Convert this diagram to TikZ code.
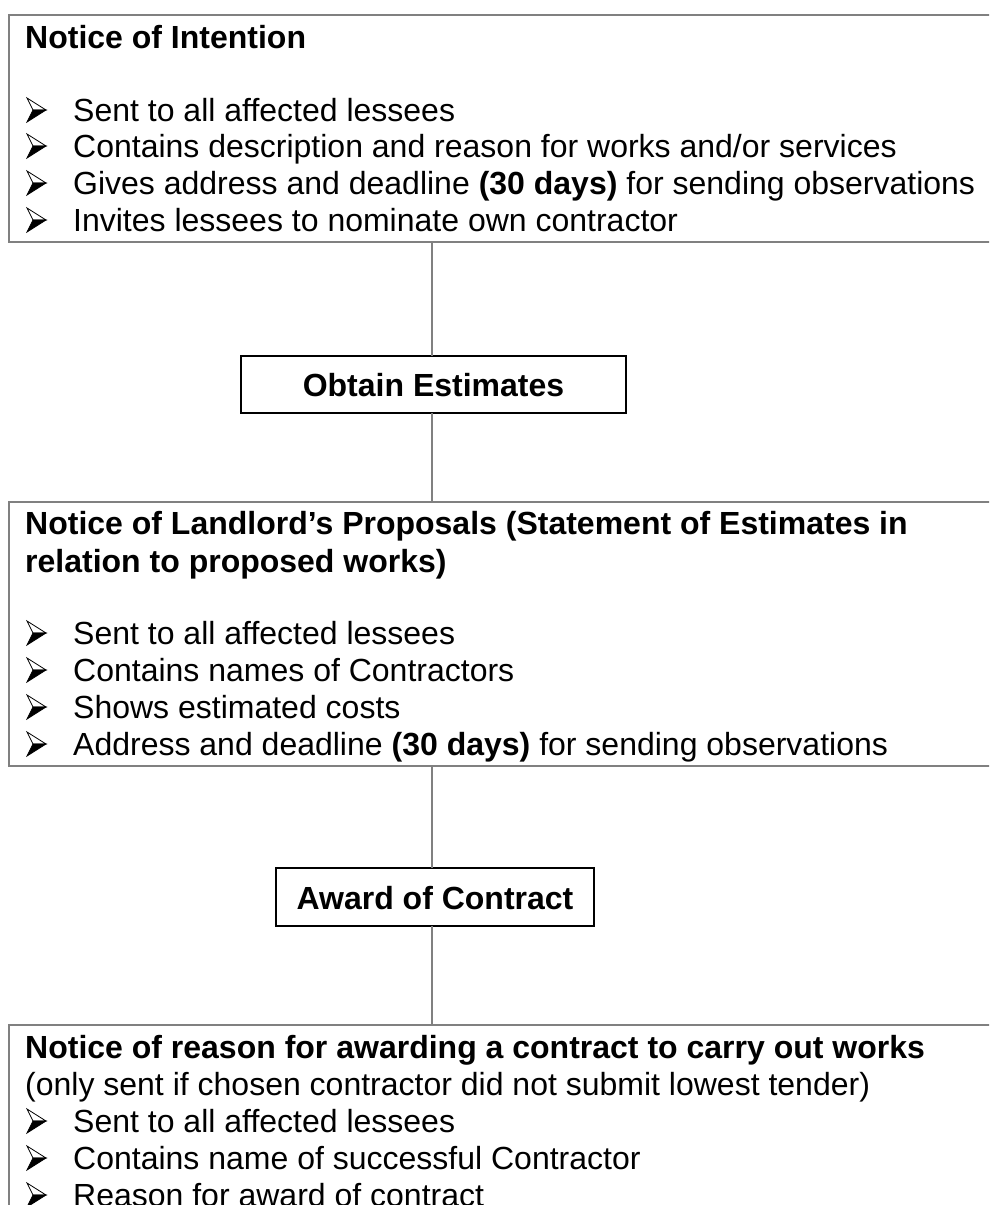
\documentclass[tikz,border=0pt]{standalone}
\usepackage{fontspec}
\setmainfont{Liberation Sans}
\begin{document}
\begin{tikzpicture}[x=1pt,y=-1pt,
  bigbox/.style={draw=black!50, line width=2pt, rectangle, inner sep=0pt, outer sep=0pt, anchor=north west},
  smallbox/.style={draw=black, line width=2pt, rectangle, inner sep=0pt, outer sep=0pt},
  conn/.style={draw=black!50, line width=1.5pt},
  txt/.style={anchor=base west, inner sep=0pt, font=\fontsize{32}{38}\selectfont},
  hdr/.style={anchor=base west, inner sep=0pt, font=\fontsize{32}{38}\selectfont\bfseries},
  btxt/.style={anchor=base, inner sep=0pt, font=\fontsize{32}{38}\selectfont\bfseries},
  arrowbul/.pic={
    \draw[line width=0.8pt, line join=miter, fill=white] (0,-23) -- (19,-11) -- (6,-11) -- cycle;
    \draw[line width=0.8pt, line join=miter, fill=black] (6,-11) -- (19,-11) -- (0,1) -- cycle;
  }]
\useasboundingbox (0,0) rectangle (989,1205);
\clip (0,0) rectangle (989,1205);
% Box 1
\node[bigbox, minimum width=1000pt, minimum height=227pt] (b1) at (9,15) {};
\node[hdr] (t1) at (25,48) {Notice of Intention};
\pic at (27,121) {arrowbul};
\node[txt] (s11) at (73,121) {Sent to all affected lessees};
\pic at (27,157) {arrowbul};
\node[txt] (s12) at (73,157) {Contains description and reason for works and/or services};
\pic at (27,194) {arrowbul};
\node[txt] (s13) at (73,194) {Gives address and deadline \textbf{(30 days)} for sending observations};
\pic at (27,231) {arrowbul};
\node[txt] (s14) at (73,231) {Invites lessees to nominate own contractor};
% Obtain Estimates
\node[smallbox, minimum width=385pt, minimum height=57pt] (oe) at (433.5,384.5) {};
\node[btxt] (oet) at (433.5,396) {Obtain Estimates};
% Box 3
\node[bigbox, minimum width=1000pt, minimum height=264pt] (b3) at (9,502) {};
\node[hdr] (t3a) at (25,534) {Notice of Landlord’s Proposals (Statement of Estimates in};
\node[hdr] (t3b) at (25,572) {relation to proposed works)};
\pic at (27,644) {arrowbul};
\node[txt] (s31) at (73,644) {Sent to all affected lessees};
\pic at (27,681) {arrowbul};
\node[txt] (s32) at (73,681) {Contains names of Contractors};
\pic at (27,718) {arrowbul};
\node[txt] (s33) at (73,718) {Shows estimated costs};
\pic at (27,755) {arrowbul};
\node[txt] (s34) at (73,755) {Address and deadline \textbf{(30 days)} for sending observations};
% Award of Contract
\node[smallbox, minimum width=318pt, minimum height=58pt] (ac) at (435,897) {};
\node[btxt] (act) at (435,909) {Award of Contract};
% Box 5
\node[bigbox, minimum width=1000pt, minimum height=260pt] (b5) at (9,1025) {};
\node[hdr] (t5) at (25,1058) {Notice of reason for awarding a contract to carry out works};
\node[txt] (t5b) at (25,1095) {(only sent if chosen contractor did not submit lowest tender)};
\pic at (27,1132) {arrowbul};
\node[txt] (s51) at (73,1132) {Sent to all affected lessees};
\pic at (27,1169) {arrowbul};
\node[txt] (s52) at (73,1169) {Contains name of successful Contractor};
\pic at (27,1206) {arrowbul};
\node[txt] (s53) at (73,1206) {Reason for award of contract};
% connectors
\coordinate (x1) at (432,242);
\draw[conn] (x1) -- (x1 |- oe.north);
\draw[conn] (oe.south -| x1) -- (x1 |- b3.north);
\draw[conn] (x1 |- b3.south) -- (x1 |- ac.north);
\draw[conn] (ac.south -| x1) -- (x1 |- b5.north);
\end{tikzpicture}
\end{document}
